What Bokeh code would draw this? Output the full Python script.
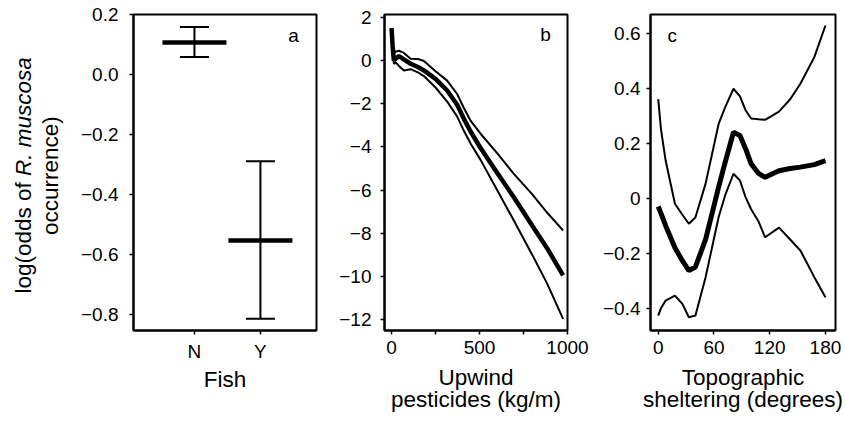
import math
from bokeh.plotting import figure
from bokeh.layouts import row
from bokeh.models import Range1d, FixedTicker, Label
from bokeh.core.properties import value
from bokeh.embed import file_html
from bokeh.resources import INLINE

FONT = "Liberation Sans"

# ---- panel a: fish presence ----
fish_cats = ["N", "Y"]
fish_pos = [1, 2]
fish_est = [0.107, -0.553]
fish_lo = [0.058, -0.814]
fish_hi = [0.158, -0.289]
fish_yticks = [0.2, 0.0, -0.2, -0.4, -0.6, -0.8]
fish_ylabels = ["0.2", "0.0", "\u22120.2", "\u22120.4", "\u22120.6", "\u22120.8"]

# ---- panel b: upwind pesticides ----
pest_x = [0, 6, 13, 25, 42, 70, 108, 150, 184, 250, 316, 373, 411, 450, 506, 600, 695, 800, 885, 975]
pest_mid = [1.5, 0.7, 0.0, 0.1, 0.2, 0.05, -0.15, -0.3, -0.46, -0.85, -1.39, -2.05, -2.7, -3.3, -4.05, -5.2, -6.33, -7.65, -8.7, -9.95]
pest_upper = [1.5, 0.7, 0.35, 0.42, 0.45, 0.35, 0.08, 0.07, -0.02, -0.5, -0.93, -1.55, -2.2, -2.8, -3.39, -4.29, -5.25, -6.2, -7.05, -7.87]
pest_lower = [1.5, 0.5, -0.15, -0.1, -0.25, -0.46, -0.4, -0.55, -0.72, -1.25, -1.9, -2.6, -3.25, -3.85, -4.6, -6.0, -7.41, -9.0, -10.34, -11.96]
pest_xticks = [0, 250, 500, 750, 1000]
pest_xlabels = ["0", "", "500", "", "1000"]
pest_yticks = [2, 0, -2, -4, -6, -8, -10, -12]
pest_ylabels = ["2", "0", "\u22122", "\u22124", "\u22126", "\u22128", "\u221210", "\u221212"]

# ---- panel c: topographic sheltering ----
shelter_x = [0, 3, 8, 18, 26, 33, 40, 51, 65, 72, 81, 88, 94, 100, 108, 115, 130, 142, 153, 168, 180]
shelter_mid = [-0.03, -0.055, -0.1, -0.18, -0.227, -0.263, -0.25, -0.15, 0.04, 0.13, 0.24, 0.228, 0.18, 0.125, 0.09, 0.076, 0.1, 0.108, 0.113, 0.122, 0.137]
shelter_upper = [0.36, 0.25, 0.137, -0.02, -0.06, -0.093, -0.07, 0.053, 0.27, 0.33, 0.398, 0.37, 0.32, 0.29, 0.287, 0.285, 0.315, 0.36, 0.416, 0.513, 0.628]
shelter_lower = [-0.427, -0.4, -0.372, -0.354, -0.384, -0.433, -0.427, -0.287, -0.069, 0.01, 0.089, 0.064, 0.004, -0.04, -0.085, -0.142, -0.107, -0.15, -0.19, -0.287, -0.36]
shelter_xticks = [0, 60, 120, 180]
shelter_xlabels = ["0", "60", "120", "180"]
shelter_yticks = [0.6, 0.4, 0.2, 0.0, -0.2, -0.4]
shelter_ylabels = ["0.6", "0.4", "0.2", "0", "\u22120.2", "\u22120.4"]

# y-axis title pieces
ytitle_line1 = "log(odds of"
ytitle_species = "R. muscosa"
ytitle_line2 = "occurrence)"

H = 420
TOP = 14
BOTTOM = 90


def make_fig(width, xr, yr, mbl, mbr, xticks, xlabels, yticks, ylabels, xtitle, ystand, tstand):
    p = figure(width=width, height=H, x_range=Range1d(*xr), y_range=Range1d(*yr),
               output_backend="svg", toolbar_location=None,
               min_border_left=mbl, min_border_right=mbr, min_border_top=TOP, min_border_bottom=BOTTOM)
    p.grid.visible = False
    p.outline_line_color = "black"
    p.outline_line_width = 2
    p.outline_line_alpha = 1
    p.background_fill_color = "white"
    p.border_fill_color = "white"
    p.xaxis.ticker = FixedTicker(ticks=xticks)
    p.xaxis.major_label_overrides = {t: l for t, l in zip(xticks, xlabels)}
    p.yaxis.ticker = FixedTicker(ticks=yticks)
    p.yaxis.major_label_overrides = {t: l for t, l in zip(yticks, ylabels)}
    for ax in (p.xaxis, p.yaxis):
        ax.axis_line_color = "black"
        ax.axis_line_width = 2
        ax.major_tick_out = 4
        ax.major_tick_in = 0
        ax.major_tick_line_width = 1.5
        ax.major_tick_line_color = "black"
        ax.minor_tick_line_color = None
        ax.major_label_text_font = FONT
        ax.major_label_text_font_size = "19px"
        ax.major_label_text_color = "black"
        ax.axis_label_text_font = FONT
        ax.axis_label_text_font_size = "22.5px"
        ax.axis_label_text_font_style = "normal"
        ax.axis_label_text_color = "black"
    p.xaxis.major_label_standoff = 6
    p.yaxis.major_label_standoff = ystand
    p.xaxis.axis_label = xtitle
    p.xaxis.axis_label_standoff = tstand
    p.xaxis.axis_label_text_line_height = 0.9
    return p


def panel_label(p, x, y, txt):
    p.add_layout(Label(x=x, y=y, text=txt, text_font=FONT, text_font_size="19px",
                       text_align="center", text_baseline="middle", text_color="black"))


# narrow figure holding the rotated y-axis title
pt = figure(width=64, height=H, x_range=Range1d(0, 64), y_range=Range1d(-0.853, 0.2),
            output_backend="svg", toolbar_location=None,
            min_border_left=0, min_border_right=0, min_border_top=TOP, min_border_bottom=BOTTOM)
pt.axis.visible = False
pt.grid.visible = False
pt.outline_line_color = None
pt.background_fill_color = "white"
pt.border_fill_color = "white"
pt.text(x=[23], y=[-0.73], text=[ytitle_line1], angle=math.pi / 2,
        text_font=value(FONT), text_font_size="22.5px", text_align="left",
        text_baseline="middle", text_color="black")
pt.text(x=[23], y=[-0.338], text=[ytitle_species], angle=math.pi / 2,
        text_font=value(FONT), text_font_size="22.5px", text_font_style="italic",
        text_align="left", text_baseline="middle", text_color="black")
pt.text(x=[50], y=[-0.337], text=[ytitle_line2], angle=math.pi / 2,
        text_font=value(FONT), text_font_size="22.5px", text_align="center",
        text_baseline="middle", text_color="black")

# panel a
pa = make_fig(266, (0.076, 2.85), (-0.853, 0.2), 69, 14,
              fish_pos, fish_cats, fish_yticks, fish_ylabels, "Fish", 11, 2)
bar_hw = 0.485
cap_hw = 0.22
pa.segment(x0=[x - bar_hw for x in fish_pos], x1=[x + bar_hw for x in fish_pos],
           y0=fish_est, y1=fish_est, line_width=4.5, line_color="black")
pa.segment(x0=fish_pos, x1=fish_pos, y0=fish_lo, y1=fish_hi, line_width=2, line_color="black")
pa.segment(x0=[x - cap_hw for x in fish_pos], x1=[x + cap_hw for x in fish_pos],
           y0=fish_hi, y1=fish_hi, line_width=2, line_color="black")
pa.segment(x0=[x - cap_hw for x in fish_pos], x1=[x + cap_hw for x in fish_pos],
           y0=fish_lo, y1=fish_lo, line_width=2, line_color="black")
panel_label(pa, 2.50, 0.13, "a")

# panel b
pb = make_fig(260, (-40, 1000), (-12.5, 2.13), 54, 23,
              pest_xticks, pest_xlabels, pest_yticks, pest_ylabels,
              "Upwind\npesticides (kg/m)", 9, 8)
pb.line(pest_x, pest_upper, line_width=2, line_color="black")
pb.line(pest_x, pest_lower, line_width=2, line_color="black")
pb.line(pest_x, pest_mid, line_width=4.5, line_color="black")
panel_label(pb, 875, 1.2, "b")

# panel c
pc = make_fig(255, (-8.3, 190.8), (-0.481, 0.668), 60, 10,
              shelter_xticks, shelter_xlabels, shelter_yticks, shelter_ylabels,
              "Topographic\nsheltering (degrees)", 6, 8)
pc.line(shelter_x, shelter_upper, line_width=2, line_color="black")
pc.line(shelter_x, shelter_lower, line_width=2, line_color="black")
pc.line(shelter_x, shelter_mid, line_width=5, line_color="black")
panel_label(pc, 15, 0.59, "c")

layout = row(pt, pa, pb, pc)
open("out.html", "w").write(file_html(layout, INLINE))
